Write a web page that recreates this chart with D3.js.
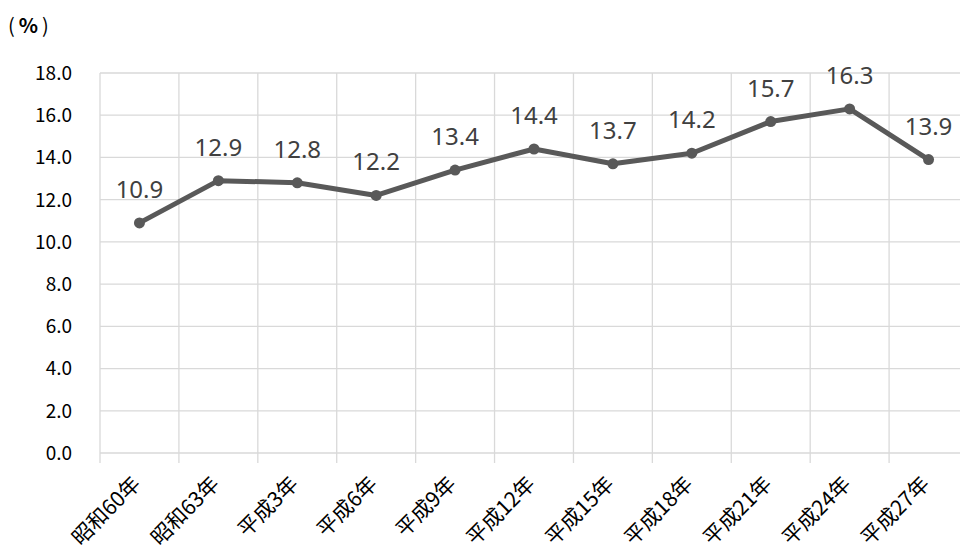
<!DOCTYPE html>
<html>
<head>
<meta charset="utf-8">
<script src="https://cdn.jsdelivr.net/npm/d3@7"></script>
<style>
  body { margin: 0; background: #fff; }
  svg { display: block; }
</style>
</head>
<body>
<div id="chart"></div>
<script>
var categories = ['昭和60年', '昭和63年', '平成3年', '平成6年', '平成9年', '平成12年', '平成15年', '平成18年', '平成21年', '平成24年', '平成27年'];
var values = [10.9, 12.9, 12.8, 12.2, 13.4, 14.4, 13.7, 14.2, 15.7, 16.3, 13.9];
var yTicks = [0, 2, 4, 6, 8, 10, 12, 14, 16, 18];

var W = 960, H = 546;
var margin = { top: 73, right: -8, bottom: 93, left: 100 },
    width = W - margin.left - margin.right,
    height = H - margin.top - margin.bottom;

var svg = d3.select('#chart').append('svg')
    .attr('width', W)
    .attr('height', H);

var g = svg.append('g')
    .attr('transform', 'translate(' + margin.left + ',' + margin.top + ')');

var x = d3.scaleBand()
    .domain(categories)
    .range([0, width]);

var y = d3.scaleLinear()
    .domain([0, 18])
    .range([height, 0]);

var gridColor = '#d9d9d9';
var cjk = '"Noto Sans CJK JP", sans-serif';

// horizontal grid
g.selectAll('.hgrid')
    .data(yTicks)
    .enter().append('line')
    .attr('x1', 0)
    .attr('x2', width)
    .attr('y1', d => y(d))
    .attr('y2', d => y(d))
    .attr('stroke', gridColor)
    .attr('stroke-width', 1.3);

// vertical grid at category boundaries, with tick below axis
g.selectAll('.vgrid')
    .data(categories)
    .enter().append('line')
    .attr('x1', d => x(d))
    .attr('x2', d => x(d))
    .attr('y1', 0)
    .attr('y2', height + 10)
    .attr('stroke', gridColor)
    .attr('stroke-width', 1.3);

// y tick labels
g.selectAll('.ylab')
    .data(yTicks)
    .enter().append('text')
    .attr('x', -28)
    .attr('y', d => y(d))
    .attr('dy', '0.36em')
    .attr('text-anchor', 'end')
    .attr('font-family', cjk)
    .attr('font-size', 19)
    .attr('fill', '#000')
    .text(d => d.toFixed(1));

// x tick labels
g.selectAll('.xlab')
    .data(categories)
    .enter().append('text')
    .attr('transform', d => 'translate(' + (x(d) + x.bandwidth() / 2 - 3) + ',' + (height + 27) + ') rotate(-45)')
    .attr('text-anchor', 'end')
    .attr('dy', '0.36em')
    .attr('font-family', cjk)
    .attr('font-size', 21)
    .attr('fill', '#000')
    .text(d => d);

// unit label
var unit = svg.append('text')
    .attr('x', 8)
    .attr('y', 33)
    .attr('font-family', cjk)
    .attr('font-size', 20)
    .attr('fill', '#000');
unit.append('tspan').text('(');
unit.append('tspan').attr('dx', 4).attr('font-weight', 'bold').text('%');
unit.append('tspan').attr('dx', 4).text(')');

var cx = d => x(d) + x.bandwidth() / 2;

var line = d3.line()
    .x((d, i) => cx(categories[i]))
    .y(d => y(d));

g.append('path')
    .datum(values)
    .attr('d', line)
    .attr('fill', 'none')
    .attr('stroke', '#595959')
    .attr('stroke-width', 5)
    .attr('stroke-linejoin', 'round');

g.selectAll('.pt')
    .data(values)
    .enter().append('circle')
    .attr('cx', (d, i) => cx(categories[i]))
    .attr('cy', d => y(d))
    .attr('r', 5.5)
    .attr('fill', '#595959');

g.selectAll('.dlab')
    .data(values)
    .enter().append('text')
    .attr('x', (d, i) => cx(categories[i]))
    .attr('y', d => y(d) - 25)
    .attr('text-anchor', 'middle')
    .attr('font-family', '"Noto Sans", sans-serif')
    .attr('font-size', 24)
    .attr('fill', '#404040')
    .text(d => d.toFixed(1));
</script>
</body>
</html>
